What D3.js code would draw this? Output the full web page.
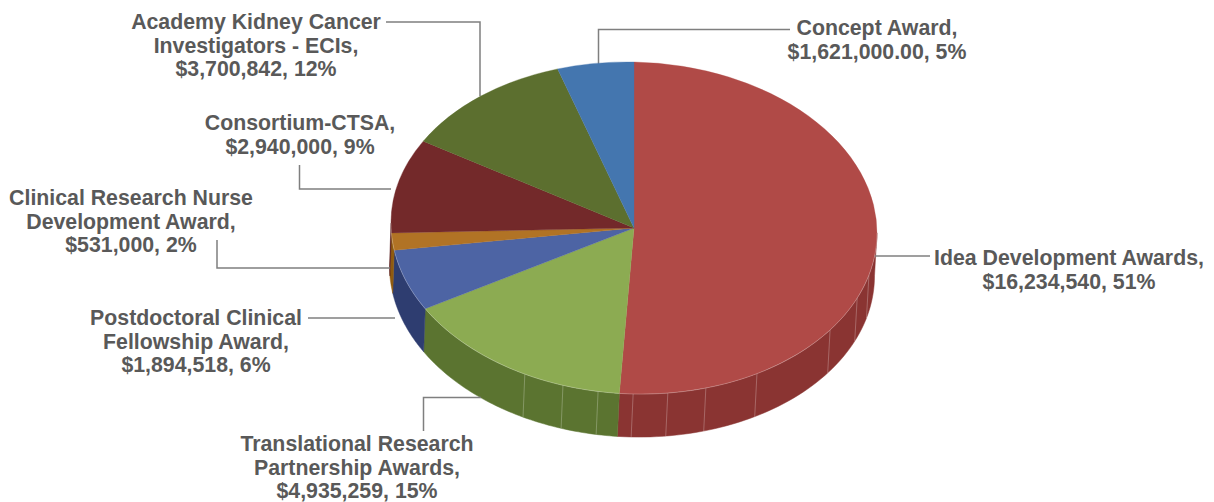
<!DOCTYPE html>
<html>
<head>
<meta charset="utf-8">
<script src="https://cdn.jsdelivr.net/npm/d3@7"></script>
<style>
  html, body { margin: 0; padding: 0; background: #fff; overflow: hidden; }
  svg { display: block; }
  text { font-family: "Liberation Sans", Arial, sans-serif; font-weight: bold; font-size: 21.3px; fill: #595959; }
</style>
</head>
<body>
<div id="chart"></div>
<script>
// clockwise from 12 o'clock
const categories = [
  ["Idea Development Awards,"],
  ["Translational Research", "Partnership Awards,"],
  ["Postdoctoral Clinical", "Fellowship Award,"],
  ["Clinical Research Nurse", "Development Award,"],
  ["Consortium-CTSA,"],
  ["Academy Kidney Cancer", "Investigators - ECIs,"],
  ["Concept Award,"]
];
const values = [16234540, 4935259, 1894518, 531000, 2940000, 3700842, 1621000];
const valueLabels = ["$16,234,540, 51%", "$4,935,259, 15%", "$1,894,518, 6%", "$531,000, 2%", "$2,940,000, 9%", "$3,700,842, 12%", "$1,621,000.00, 5%"];

const topColors = ["#b04a47", "#8cab52", "#4d64a4", "#b17325", "#73292a", "#5c6f2f", "#4476af"];
const sideColors = ["#8a3432", "#5b7430", "#2e3d70", "#8f5b10", "#5a1f1f", "#46551f", "#335a88"];

// faint seams on the rim, degrees clockwise from 12 o'clock
const seamAngles = [104.8, 113.3, 126.2, 149.6, 162.8, 172, 180.2, 188.5, 197, 206.7];

const width = 1214, height = 502;
const top3d = {cx: 634, cy: 228, rx: 243, ry: 166};
const base3d = {cx: 632, cy: 271, rx: 242.5, ry: 166};
const tilt = 0.02; // the pie leans a little, right side lower than left

// label anchor (centre x, first baseline) and leader polyline per slice
const labelPos = [
  {x: 1069, y: 265}, {x: 357, y: 451}, {x: 196, y: 325}, {x: 131, y: 205},
  {x: 300, y: 130}, {x: 256, y: 29}, {x: 877, y: 35}
];
const leaders = [
  [[875, 256], [930, 256]],
  [[481, 397.5], [423.5, 397.5], [423.5, 431]],
  [[395, 318], [308, 318]],
  [[390, 268], [217, 268], [217, 240]],
  [[391, 189], [299.5, 189], [299.5, 165]],
  [[480, 96], [480, 22], [386, 22]],
  [[598.5, 66], [598.5, 29.5], [790, 29.5]]
];

const svg = d3.select("#chart").append("svg")
  .attr("width", width)
  .attr("height", height);

const ellipse = (e) => ({
  x: d3.scaleLinear().domain([-1, 1]).range([e.cx - e.rx, e.cx + e.rx]),
  y: d3.scaleLinear().domain([-1, 1]).range([e.cy - e.ry, e.cy + e.ry]),
  lean: e.rx * tilt
});
const topE = ellipse(top3d), baseE = ellipse(base3d);

const pie = d3.pie().sort(null).value(d => d);
const slices = pie(values);

const rimPoint = (e, a) => [e.x(Math.sin(a)), e.y(-Math.cos(a)) + e.lean * Math.sin(a)];
const line = d3.line();

// rim, only the front half can be seen
const frontStart = Math.PI / 2, frontEnd = Math.PI * 3 / 2;
const wallPath = (s) => {
  const a0 = Math.max(s.startAngle, frontStart), a1 = Math.min(s.endAngle, frontEnd);
  if (a1 <= a0) return null;
  const steps = d3.range(0, 61).map(i => a0 + (a1 - a0) * i / 60);
  const pts = steps.map(a => rimPoint(topE, a))
    .concat(steps.slice().reverse().map(a => rimPoint(baseE, a)));
  return line(pts) + "Z";
};

svg.append("g").selectAll("path")
  .data(slices.filter(s => wallPath(s)))
  .enter()
  .append("path")
    .attr("d", wallPath)
    .attr("fill", s => sideColors[s.index])
    .attr("stroke", s => sideColors[s.index])
    .attr("stroke-width", 0.5);

svg.append("g").selectAll("path")
  .data(seamAngles)
  .enter()
  .append("path")
    .attr("d", d => {
      const a = d * Math.PI / 180;
      return line([rimPoint(topE, a), rimPoint(baseE, a)]);
    })
    .attr("stroke", "#fff")
    .attr("stroke-opacity", 0.25)
    .attr("stroke-width", 1)
    .attr("fill", "none");

// leaders go under the pie so they stop at its edge
svg.append("g").selectAll("path")
  .data(leaders)
  .enter()
  .append("path")
    .attr("d", line)
    .attr("fill", "none")
    .attr("stroke", "#7f7f7f")
    .attr("stroke-width", 1.5);

const arc = d3.arc().innerRadius(0).outerRadius(top3d.rx);
svg.append("g")
  .attr("transform", `translate(${top3d.cx},${top3d.cy}) matrix(1,${tilt},0,${top3d.ry / top3d.rx},0,0)`)
  .selectAll("path")
  .data(slices)
  .enter()
  .append("path")
    .attr("d", arc)
    .attr("fill", s => topColors[s.index])
    .attr("stroke", s => topColors[s.index])
    .attr("stroke-width", 0.4);

// thin light edge where the top meets the rim
svg.append("path")
  .attr("d", line(d3.range(0, 121).map(i => rimPoint(topE, frontStart + (frontEnd - frontStart) * i / 120))))
  .attr("fill", "none")
  .attr("stroke", "#fff")
  .attr("stroke-opacity", 0.3)
  .attr("stroke-width", 0.8);

const labels = svg.append("g").selectAll("text")
  .data(categories.map((c, i) => c.concat(valueLabels[i])))
  .enter()
  .append("text")
    .attr("text-anchor", "middle")
    .attr("x", (d, i) => labelPos[i].x)
    .attr("y", (d, i) => labelPos[i].y);

labels.selectAll("tspan")
  .data((d, i) => d.map(t => ({t, x: labelPos[i].x})))
  .enter()
  .append("tspan")
    .attr("x", d => d.x)
    .attr("dy", (d, i) => i === 0 ? 0 : 23.7)
    .text(d => d.t);
</script>
</body>
</html>
